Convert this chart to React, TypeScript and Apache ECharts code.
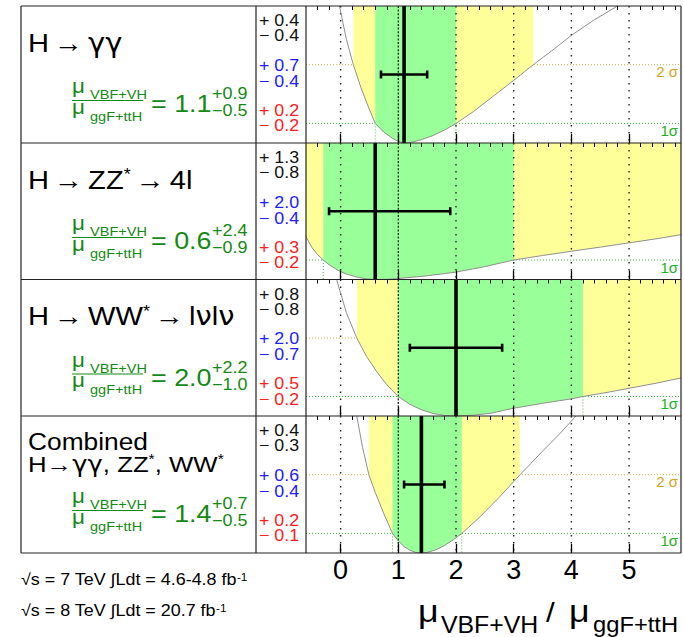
import { useEffect, useRef } from "react";
import * as echarts from "echarts";

const FONT = '"Liberation Sans", Arial, sans-serif';
const GREEK_FONT = '"DejaVu Sans", "Liberation Sans", sans-serif';

// Channels, best-fit ratio and uncertainty breakdown
const bestFit = [1.1, 0.6, 2.0, 1.4];
const totalUp = [0.9, 2.4, 2.2, 0.7];
const totalDown = [0.5, 0.9, 1.0, 0.5];
const statUp = [0.4, 1.3, 0.8, 0.4];
const statDown = [0.4, 0.8, 0.8, 0.3];
const systUp = [0.7, 2.0, 2.0, 0.6];
const systDown = [0.4, 0.4, 0.7, 0.4];
const theoryUp = [0.2, 0.3, 0.5, 0.2];
const theoryDown = [0.2, 0.2, 0.2, 0.1];
// 2 sigma interval edges (null = outside the plotted range)
const twoSigmaLow: (number | null)[] = [0.22, null, 0.28, 0.49];
const twoSigmaHigh: (number | null)[] = [3.34, null, null, 3.11];

// -2 ln Lambda profiles versus mu_VBF+VH / mu_ggF+ttH
const nllGammaGamma = [
  [-0.02, 7.0], [0.1, 5.3], [0.22, 4.0], [0.35, 2.85], [0.48, 1.85], [0.6, 1.0],
  [0.75, 0.55], [0.9, 0.24], [1.0, 0.08], [1.1, 0.0], [1.25, 0.05], [1.4, 0.17],
  [1.6, 0.38], [1.8, 0.66], [2.0, 1.0], [2.3, 1.6], [2.65, 2.4], [3.0, 3.2],
  [3.34, 4.0], [3.7, 4.8], [4.0, 5.5], [4.4, 6.3], [4.8, 7.0],
];
const nllZZ = [
  [-0.6, 2.2], [-0.5, 1.65], [-0.4, 1.28], [-0.3, 1.0], [-0.2, 0.76], [-0.05, 0.48],
  [0.1, 0.28], [0.3, 0.11], [0.45, 0.03], [0.6, 0.0], [0.8, 0.01], [1.0, 0.05],
  [1.5, 0.19], [2.0, 0.38], [2.5, 0.66], [3.0, 1.0], [3.5, 1.23], [4.0, 1.45],
  [4.5, 1.66], [5.0, 1.88], [5.5, 2.1], [5.9, 2.3],
];
const nllWW = [
  [-0.07, 7.0], [0.1, 5.3], [0.28, 4.0], [0.45, 3.05], [0.62, 2.3], [0.8, 1.6],
  [1.0, 1.0], [1.2, 0.6], [1.4, 0.32], [1.6, 0.13], [1.8, 0.03], [2.0, 0.0],
  [2.3, 0.04], [2.6, 0.14], [3.0, 0.4], [3.5, 0.65], [4.0, 0.88], [4.2, 1.0],
  [4.6, 1.2], [5.0, 1.42], [5.5, 1.7], [5.9, 1.95],
];
const nllCombined = [
  [0.28, 7.0], [0.38, 5.4], [0.49, 4.0], [0.6, 3.1], [0.75, 2.0], [0.9, 1.0],
  [1.0, 0.62], [1.1, 0.33], [1.2, 0.14], [1.3, 0.03], [1.4, 0.0], [1.5, 0.03],
  [1.65, 0.16], [1.8, 0.38], [1.95, 0.67], [2.1, 1.0], [2.4, 1.8], [2.75, 2.85],
  [3.11, 4.0], [3.5, 5.2], [3.8, 6.1], [4.08, 7.0],
];
const nllCurves = [nllGammaGamma, nllZZ, nllWW, nllCombined];

const muTicks = [0, 1, 2, 3, 4, 5];
const muMinorTicks: number[] = [];
for (let k = -2; k <= 29; k++) if (k % 5 !== 0) muMinorTicks.push(Math.round(k * 2) / 10);

const X_MIN = -0.6;
const X_MAX = 5.9;
const Y_MAX = 7;
const ONE_SIGMA = 1;
const TWO_SIGMA = 4;
const SM_VALUE = 1;
const ERRBAR_LEVEL = 3.5;

// layout
const PANEL_TOP = [6, 143, 279.5, 416];
const PANEL_BOTTOM = [143, 279.5, 416, 553];
const BOX_LEFT = 21;
const COL_SPLIT = 256;
const PLOT_LEFT = 306;
const PLOT_RIGHT = 681;
const SX = 1.12;

const GREEN_TEXT = "#138a13";
const FILL_YELLOW = "#ffff99";
const FILL_GREEN = "#99ff99";

function interpolate(curve: number[][], x: number) {
  if (x <= curve[0][0]) return curve[0][1];
  for (let i = 1; i < curve.length; i++) {
    const [x0, y0] = curve[i - 1];
    const [x1, y1] = curve[i];
    if (x <= x1) return y0 + ((y1 - y0) * (x - x0)) / (x1 - x0);
  }
  return curve[curve.length - 1][1];
}

function bandItem(curve: number[][], lo: number, hi: number, fill: string) {
  return (_p: any, api: any) => {
    const pts = [api.coord([lo, interpolate(curve, lo)])];
    curve.forEach(([x, y]) => {
      if (x > lo + 1e-9 && x < hi - 1e-9) pts.push(api.coord([x, y]));
    });
    pts.push(api.coord([hi, interpolate(curve, hi)]));
    pts.push(api.coord([hi, Y_MAX]));
    pts.push(api.coord([lo, Y_MAX]));
    return { type: "polygon", shape: { points: pts }, style: { fill, stroke: "none" } };
  };
}

function text(x: number, y: number, t: string, size: number, fill: string, extra: any = {}, sx = SX) {
  return {
    type: "text",
    x,
    y,
    scaleX: sx,
    z: 50,
    silent: true,
    style: { x: 0, y: 0, text: t, fill, fontSize: size, fontFamily: FONT, align: "left", verticalAlign: "middle", ...extra },
  };
}

function titleRich(size: number) {
  return {
    t: { fontSize: size, fontFamily: FONT, fill: "#000" },
    g: { fontSize: size, fontFamily: GREEK_FONT, fill: "#000" },
    s: { fontSize: Math.round(size * 0.62), fontFamily: FONT, fill: "#000", verticalAlign: "top" },
    w: { fontSize: Math.round(size * 0.62), fontFamily: FONT, fill: "#000" },
  };
}

const fmt = (v: number) => v.toFixed(1);

function buildOption() {
  const grids: any[] = [];
  const xAxes: any[] = [];
  const yAxes: any[] = [];
  const series: any[] = [];
  const graphics: any[] = [];

  for (let p = 0; p < 4; p++) {
    grids.push({ left: PLOT_LEFT, top: PANEL_TOP[p], width: PLOT_RIGHT - PLOT_LEFT, height: PANEL_BOTTOM[p] - PANEL_TOP[p] });
    const common = { gridIndex: p, type: "value", min: X_MIN, max: X_MAX, axisLine: { show: false }, splitLine: { show: false }, z: 10 };
    xAxes.push({
      ...common,
      axisTick: { show: true, inside: true, length: 9, customValues: muTicks, lineStyle: { color: "#000", width: 1.3 } },
      axisLabel:
        p === 3
          ? { show: true, customValues: muTicks, fontSize: 27, fontFamily: FONT, color: "#000", margin: 3 }
          : { show: false },
    });
    xAxes.push({
      ...common,
      axisTick: { show: true, inside: true, length: 4, customValues: muMinorTicks, lineStyle: { color: "#000", width: 1 } },
      axisLabel: { show: false },
    });
    yAxes.push({ gridIndex: p, type: "value", min: 0, max: Y_MAX, show: false });

    const curve = nllCurves[p];
    const lo1 = bestFit[p] - totalDown[p];
    const hi1 = bestFit[p] + totalUp[p];
    const lo2 = twoSigmaLow[p] ?? X_MIN;
    const hi2 = twoSigmaHigh[p] ?? X_MAX;
    const axisRef = { xAxisIndex: 2 * p, yAxisIndex: p };

    // sigma reference lines and their labels
    series.push({
      type: "custom",
      ...axisRef,
      z: 1,
      silent: true,
      clip: true,
      data: [0],
      renderItem: (_params: any, api: any) => {
        const [xl, y1] = api.coord([X_MIN, ONE_SIGMA]);
        const [xr, y4] = api.coord([X_MAX, TWO_SIGMA]);
        const [, y0] = api.coord([X_MIN, 0]);
        const children: any[] = [
          { type: "line", shape: { x1: xl, y1: y4, x2: xr, y2: y4 }, style: { stroke: "#c9b04a", lineWidth: 1, lineDash: [1, 2] } },
          { type: "line", shape: { x1: xl, y1, x2: xr, y2: y1 }, style: { stroke: "#3cb43c", lineWidth: 1, lineDash: [1, 2] } },
          { type: "text", style: { text: "2 σ", x: xr - 3, y: y4 + 7, fill: "#d9a21b", fontSize: 15, fontFamily: FONT, align: "right", verticalAlign: "middle" } },
          { type: "text", style: { text: "1σ", x: xr - 3, y: y1 + 7, fill: "#22b022", fontSize: 15, fontFamily: FONT, align: "right", verticalAlign: "middle" } },
        ];
        [lo1, hi1].forEach((v) => {
          const [xv] = api.coord([v, 0]);
          children.push({ type: "line", shape: { x1: xv, y1, x2: xv, y2: y0 }, style: { stroke: "#3cb43c", lineWidth: 1, lineDash: [1, 2] } });
        });
        return { type: "group", children };
      },
    });

    // 2 sigma and 1 sigma regions above the profile
    series.push({ type: "custom", ...axisRef, z: 2, silent: true, clip: true, data: [0], renderItem: bandItem(curve, lo2, hi2, FILL_YELLOW) });
    series.push({ type: "custom", ...axisRef, z: 3, silent: true, clip: true, data: [0], renderItem: bandItem(curve, lo1, hi1, FILL_GREEN) });

    // dotted grid at integer values and the SM reference line
    series.push({
      type: "custom",
      ...axisRef,
      z: 4,
      silent: true,
      clip: true,
      data: [0],
      renderItem: (_params: any, api: any) => ({
        type: "group",
        children: muTicks.map((v) => {
          const [x, yt] = api.coord([v, Y_MAX]);
          const [, yb] = api.coord([v, 0]);
          const sm = v === SM_VALUE;
          return {
            type: "line",
            shape: { x1: x, y1: yt, x2: x, y2: yb },
            style: { stroke: "#222", lineWidth: sm ? 1.3 : 1.4, lineDash: sm ? [2, 1.6] : [1.4, 5.6] },
          };
        }),
      }),
    });

    // likelihood profile
    series.push({
      type: "line",
      ...axisRef,
      z: 5,
      silent: true,
      clip: true,
      data: curve,
      showSymbol: false,
      lineStyle: { color: "#8f8f8f", width: 1 },
    });

    // best fit and statistical error bar
    series.push({
      type: "custom",
      ...axisRef,
      z: 6,
      silent: true,
      clip: true,
      data: [0],
      renderItem: (_params: any, api: any) => {
        const [xb, yt] = api.coord([bestFit[p], Y_MAX]);
        const [, yb] = api.coord([bestFit[p], 0]);
        const [xl, ye] = api.coord([bestFit[p] - statDown[p], ERRBAR_LEVEL]);
        const [xr] = api.coord([bestFit[p] + statUp[p], ERRBAR_LEVEL]);
        const st = { stroke: "#000", lineWidth: 2.6 };
        return {
          type: "group",
          children: [
            { type: "line", shape: { x1: xb, y1: yt, x2: xb, y2: yb }, style: { stroke: "#000", lineWidth: 3.6 } },
            { type: "line", shape: { x1: xl, y1: ye, x2: xr, y2: ye }, style: st },
            { type: "line", shape: { x1: xl, y1: ye - 4, x2: xl, y2: ye + 4 }, style: st },
            { type: "line", shape: { x1: xr, y1: ye - 4, x2: xr, y2: ye + 4 }, style: st },
          ],
        };
      },
    });

    // left-hand text block
    const T = PANEL_TOP[p];
    const r26 = { rich: titleRich(26) };
    if (p === 0) graphics.push(text(28, T + 37, "{t|H}{w| }{t|→}{w| }{g|γγ}", 26, "#000", r26));
    if (p === 1) graphics.push(text(28, T + 37, "{t|H}{w| }{t|→}{w| }{t|ZZ}{s|*}{w| }{t|→}{w| }{t|4l}", 26, "#000", r26));
    if (p === 2) graphics.push(text(28, T + 37, "{t|H}{w| }{t|→}{w| }{t|WW}{s|*}{w| }{t|→}{w| }{t|l}{g|ν}{t|l}{g|ν}", 26, "#000", r26));
    if (p === 3) {
      graphics.push(text(28, T + 26, "Combined", 23.5, "#000"));
      graphics.push(text(28, T + 48, "{t|H→}{g|γγ}{t|, ZZ}{s|*}{t|, WW}{s|*}", 23, "#000", { rich: titleRich(23) }));
    }

    graphics.push(text(72, T + 80, "μ", 20, GREEN_TEXT));
    graphics.push(text(90, T + 89, "VBF+VH", 13, GREEN_TEXT));
    graphics.push({
      type: "line",
      z: 50,
      silent: true,
      shape: { x1: 72, y1: T + 94.5, x2: 143, y2: T + 94.5 },
      style: { stroke: GREEN_TEXT, lineWidth: 1.2 },
    });
    graphics.push(text(72, T + 100.5, "μ", 20, GREEN_TEXT));
    graphics.push(text(90, T + 110.5, "ggF+ttH", 13, GREEN_TEXT));
    graphics.push(text(151, T + 98, "= " + fmt(bestFit[p]), 24, GREEN_TEXT));
    graphics.push(text(212, T + 88, "+" + fmt(totalUp[p]), 16, GREEN_TEXT));
    graphics.push(text(212, T + 105, "−" + fmt(totalDown[p]), 16, GREEN_TEXT));

    const rows: [string, number][] = [
      ["+ " + fmt(statUp[p]), 14.5],
      ["− " + fmt(statDown[p]), 29.5],
      ["+ " + fmt(systUp[p]), 59],
      ["− " + fmt(systDown[p]), 75],
      ["+ " + fmt(theoryUp[p]), 104],
      ["− " + fmt(theoryDown[p]), 119.7],
    ];
    const rowColors = ["#111", "#111", "#2020ff", "#2020ff", "#ff2020", "#ff2020"];
    rows.forEach(([s, dy], i) => graphics.push(text(259, T + dy, s, 16.5, rowColors[i], {}, 1.08)));
  }

  // table frame
  const frame = { stroke: "#222", lineWidth: 1.2 };
  [6, ...PANEL_BOTTOM].forEach((y) =>
    graphics.push({ type: "line", z: 60, silent: true, shape: { x1: BOX_LEFT, y1: y, x2: PLOT_RIGHT, y2: y }, style: frame })
  );
  [BOX_LEFT, COL_SPLIT, PLOT_LEFT, PLOT_RIGHT].forEach((x) =>
    graphics.push({ type: "line", z: 60, silent: true, shape: { x1: x, y1: 6, x2: x, y2: 553 }, style: frame })
  );

  // luminosity notes
  const sup = { t: { fontSize: 16, fontFamily: FONT, fill: "#000" }, s: { fontSize: 10.5, fontFamily: FONT, fill: "#000", verticalAlign: "top" } };
  graphics.push(text(21, 580, "{t|√s = 7 TeV ∫Ldt = 4.6-4.8 fb}{s|-1}", 16, "#000", { rich: sup }));
  graphics.push(text(21, 611, "{t|√s = 8 TeV ∫Ldt = 20.7 fb}{s|-1}", 16, "#000", { rich: sup }));

  // axis title
  graphics.push(text(418, 611, "μ", 32, "#000"));
  graphics.push(text(441, 625, "VBF+VH", 23, "#000", {}, 1.08));
  graphics.push(text(546, 612, "/", 28, "#000"));
  graphics.push(text(569, 611, "μ", 32, "#000"));
  graphics.push(text(593, 624, "ggF+ttH", 22, "#000", {}, 1.08));

  return {
    animation: false,
    backgroundColor: "#fff",
    grid: grids,
    xAxis: xAxes,
    yAxis: yAxes,
    series,
    graphic: { elements: graphics },
  };
}

export default function App() {
  const ref = useRef<HTMLDivElement>(null);
  useEffect(() => {
    const chart = echarts.init(ref.current!, undefined, { renderer: "svg" });
    chart.setOption(buildOption() as any);
    return () => chart.dispose();
  }, []);
  return (
    <div
      ref={ref}
      style={{ position: "fixed", left: 0, top: 0, width: 684, height: 637, background: "#fff" }}
    />
  );
}
